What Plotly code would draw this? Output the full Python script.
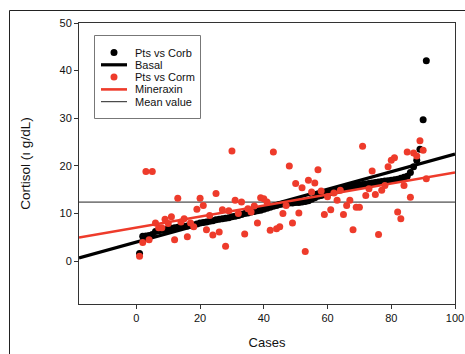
import numpy as np
import plotly.graph_objects as go

# Case numbers (1..91)
cases = list(range(1, 92))

# Basal cortisol, patients vs Corb (ranked values)
corb = [1.6, 5.2, 5.3, 5.4, 5.6, 6.2, 6.4, 6.5, 6.6, 6.8,
        6.9, 7.0, 7.1, 7.2, 7.3, 7.4, 7.5, 7.6, 7.8, 8.0,
        8.1, 8.2, 8.4, 8.5, 8.7, 8.8, 8.9, 9.0, 9.1, 9.3,
        9.4, 9.6, 9.8, 10.0, 10.1, 10.3, 10.4, 10.6, 10.7, 10.9,
        11.1, 11.3, 11.5, 11.7, 11.9, 12.0, 12.1, 12.2, 12.2, 12.3,
        12.3, 12.4, 12.5, 12.7, 13.0, 13.3, 13.6, 13.8, 14.0, 14.2,
        14.4, 14.6, 14.8, 15.0, 15.2, 15.4, 15.6, 15.8, 15.9, 16.0,
        16.1, 16.2, 16.3, 16.4, 16.5, 16.6, 16.7, 16.8, 16.9, 17.0,
        17.1, 17.2, 17.4, 17.6, 17.8, 18.6, 19.8, 21.2, 23.5, 29.7,
        42.1]

# Cortisol after Mineraxin, patients vs Corm
corm = [1.0, 3.9, 18.8, 4.5, 18.8, 8.0, 7.0, 7.0, 8.8, 7.9,
        9.3, 4.5, 13.2, 8.2, 8.9, 5.1, 8.0, 7.2, 10.9, 13.2,
        11.7, 6.6, 9.6, 5.5, 14.2, 6.1, 10.8, 3.1, 10.6, 23.1,
        12.8, 10.0, 12.4, 5.7, 11.0, 10.3, 11.6, 8.0, 13.3, 13.1,
        12.4, 6.5, 22.9, 6.8, 7.2, 10.0, 11.7, 20.0, 8.0, 16.3,
        10.1, 15.4, 2.0, 17.0, 14.5, 16.4, 19.2, 14.7, 9.8, 13.5,
        10.8, 14.3, 12.8, 14.9, 9.8, 11.7, 12.8, 6.6, 11.3, 11.3,
        24.1, 13.8, 15.2, 18.9, 14.0, 5.6, 14.9, 15.9, 19.8, 21.2,
        21.7, 10.3, 8.9, 15.9, 22.9, 13.4, 22.7, 22.1, 25.3, 23.3,
        17.3]

# Linear fits (intercept, slope) and the overall mean
basal_fit = (4.0, 0.185)
mineraxin_fit = (7.05, 0.1155)
mean_value = 12.4

x_range = [-18, 100]
y_range = [-9, 50]
x_ticks = [0, 20, 40, 60, 80, 100]
y_ticks = [0, 10, 20, 30, 40, 50]

legend_labels = ["Pts vs Corb", "Basal", "Pts vs Corm", "Mineraxin", "Mean value"]

fit_x = np.array(x_range, dtype=float)
basal_y = basal_fit[0] + basal_fit[1] * fit_x
mineraxin_y = mineraxin_fit[0] + mineraxin_fit[1] * fit_x

BLACK = "#000000"
RED = "#ee3b2b"
MEAN_COLOR = "#222222"
FONT = "Arial, Liberation Sans, sans-serif"
TEXT = "#111111"

fig = go.Figure()

fig.add_trace(go.Scatter(
    x=fit_x, y=[mean_value, mean_value], mode="lines", name=legend_labels[4],
    line=dict(color=MEAN_COLOR, width=1)))
fig.add_trace(go.Scatter(
    x=cases, y=corb, mode="markers", name=legend_labels[0],
    marker=dict(color=BLACK, size=7)))
fig.add_trace(go.Scatter(
    x=fit_x, y=basal_y, mode="lines", name=legend_labels[1],
    line=dict(color=BLACK, width=3.2)))
fig.add_trace(go.Scatter(
    x=cases, y=corm, mode="markers", name=legend_labels[2],
    marker=dict(color=RED, size=7)))
fig.add_trace(go.Scatter(
    x=fit_x, y=mineraxin_y, mode="lines", name=legend_labels[3],
    line=dict(color=RED, width=2.6)))

W, H = 465, 354
ml, mr, mt, mb = 79, 10, 23, 50
pw, ph = W - ml - mr, H - mt - mb


def px_x(p):
    return (p - ml) / pw


def px_y(p):
    return (H - mb - p) / ph


# Outer frame around the figure (open towards the right and bottom)
frame = dict(type="line", xref="paper", yref="paper",
             line=dict(color=MEAN_COLOR, width=1), layer="above")
fig.add_shape(**frame, x0=px_x(9.5), x1=px_x(9.5), y0=px_y(10.5), y1=px_y(360))
fig.add_shape(**frame, x0=px_x(9.5), x1=px_x(470), y0=px_y(10.5), y1=px_y(10.5))

# Legend box with compact rows
box_l, box_r, box_t, box_b = 94.5, 200.5, 35.5, 118.5
fig.add_shape(type="rect", xref="paper", yref="paper",
              x0=px_x(box_l), x1=px_x(box_r), y0=px_y(box_b), y1=px_y(box_t),
              line=dict(color="#777777", width=1), fillcolor="white", layer="above")

row_y = [52.5, 64.8, 77.1, 89.4, 101.7]
sym_l, sym_r, sym_c, text_x = 101, 127, 114, 132.5
styles = [("marker", BLACK, 7), ("line", BLACK, 3.2), ("marker", RED, 7),
          ("line", RED, 2.6), ("line", MEAN_COLOR, 1)]
for label, ry, (kind, color, size) in zip(legend_labels, row_y, styles):
    if kind == "marker":
        fig.add_shape(type="circle", xref="paper", yref="paper",
                      xsizemode="pixel", ysizemode="pixel",
                      xanchor=px_x(sym_c), yanchor=px_y(ry),
                      x0=-size / 2, x1=size / 2, y0=-size / 2, y1=size / 2,
                      fillcolor=color, line=dict(width=0), layer="above")
    else:
        fig.add_shape(type="line", xref="paper", yref="paper",
                      x0=px_x(sym_l), x1=px_x(sym_r), y0=px_y(ry), y1=px_y(ry),
                      line=dict(color=color, width=size), layer="above")
    fig.add_annotation(xref="paper", yref="paper", x=px_x(text_x), y=px_y(ry),
                       xanchor="left", yanchor="middle", showarrow=False,
                       text=label, font=dict(family=FONT, size=11, color=TEXT))

axis_common = dict(
    showgrid=False, zeroline=False, showline=True, mirror=True,
    linecolor="#333333", linewidth=1, ticks="outside", ticklen=4,
    tickcolor="#333333", tickfont=dict(family=FONT, size=11, color=TEXT),
    automargin=False,
)

fig.update_xaxes(range=x_range, tickvals=x_ticks,
                 title=dict(text="Cases", font=dict(family=FONT, size=13, color=TEXT),
                            standoff=14),
                 **axis_common)
fig.update_yaxes(range=y_range, tickvals=y_ticks,
                 title=dict(text="Cortisol (ı g/dL)", font=dict(family=FONT, size=13.5, color=TEXT),
                            standoff=25),
                 **axis_common)

fig.update_layout(
    width=W, height=H,
    margin=dict(l=ml, r=mr, t=mt, b=mb),
    paper_bgcolor="white", plot_bgcolor="white",
    font=dict(family=FONT, size=11, color=TEXT),
    showlegend=False,
)

fig.write_html("out.html")
